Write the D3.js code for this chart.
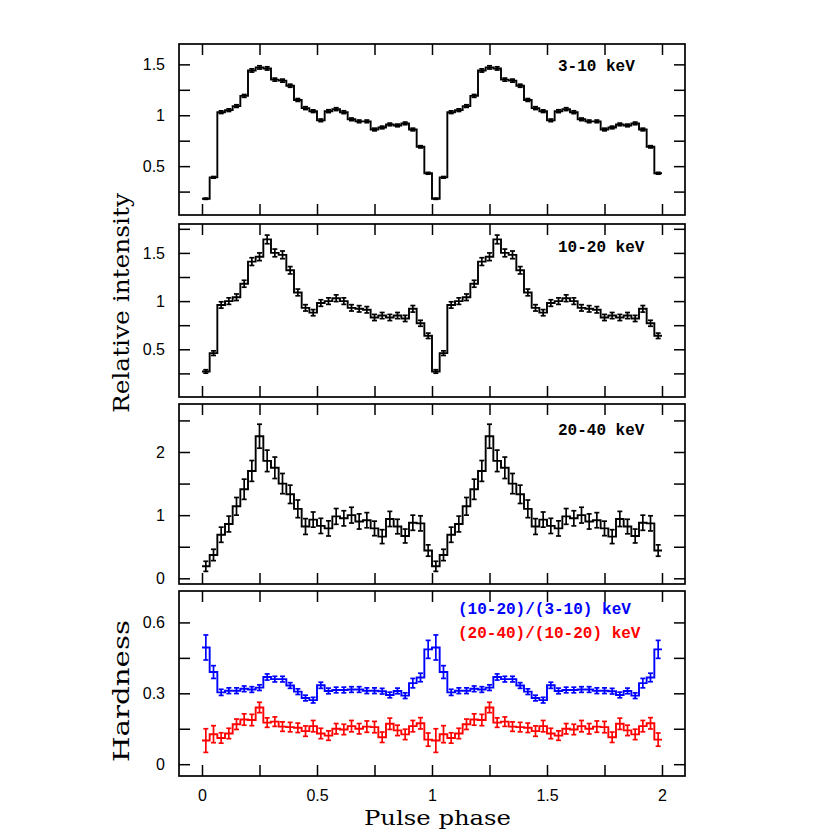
<!DOCTYPE html>
<html><head><meta charset="utf-8">
<script src="https://cdn.jsdelivr.net/npm/d3@7"></script>
<style>body{margin:0;background:#fff}</style>
</head><body><svg id="c" width="830" height="830"></svg>
<script>
// ---- data: one pulse cycle, 30 phase bins (plotted twice, phase 0-2) ----
const nBins = 30;
const soft = [0.18,0.39,1.03,1.05,1.09,1.19,1.44,1.47,1.46,1.35,1.34,1.29,1.15,1.07,1.04,0.95,1.04,1.06,1.03,0.96,0.94,0.94,0.86,0.88,0.91,0.90,0.92,0.86,0.69,0.43];
const softErr = [0.006,0.008,0.013,0.013,0.013,0.014,0.016,0.016,0.016,0.015,0.015,0.015,0.014,0.014,0.013,0.013,0.014,0.014,0.014,0.013,0.013,0.013,0.013,0.013,0.013,0.013,0.013,0.013,0.011,0.009];
const mid = [0.27,0.46,0.96,1.00,1.04,1.18,1.41,1.46,1.64,1.50,1.48,1.32,1.09,0.93,0.88,0.98,1.00,1.03,1.00,0.93,0.92,0.91,0.83,0.85,0.83,0.85,0.82,0.92,0.77,0.64];
const midErr = [0.018,0.024,0.033,0.034,0.034,0.036,0.04,0.04,0.045,0.04,0.04,0.038,0.035,0.033,0.032,0.034,0.034,0.035,0.034,0.033,0.033,0.033,0.032,0.032,0.032,0.032,0.032,0.034,0.031,0.028];
const hard = [0.19,0.37,0.69,0.86,1.14,1.41,1.70,2.25,1.86,1.75,1.50,1.33,1.10,0.82,0.93,0.83,0.79,0.98,0.95,1.00,0.90,0.92,0.79,0.66,0.94,0.82,0.67,0.88,0.87,0.44];
const hardErr = [0.08,0.09,0.12,0.125,0.14,0.16,0.165,0.19,0.17,0.17,0.16,0.145,0.14,0.125,0.12,0.12,0.12,0.125,0.12,0.125,0.12,0.12,0.115,0.11,0.12,0.115,0.11,0.12,0.12,0.09];
const ratioMidSoft = [0.494,0.39,0.304,0.311,0.311,0.319,0.316,0.324,0.369,0.36,0.36,0.333,0.307,0.28,0.271,0.334,0.31,0.314,0.314,0.316,0.316,0.311,0.311,0.309,0.293,0.31,0.29,0.343,0.367,0.486];
const ratioMidSoftErr = [0.053,0.027,0.013,0.012,0.012,0.012,0.012,0.012,0.013,0.012,0.012,0.012,0.012,0.012,0.012,0.013,0.012,0.012,0.012,0.012,0.012,0.012,0.012,0.012,0.012,0.012,0.012,0.02,0.018,0.038];
const ratioHardMid = [0.10,0.127,0.111,0.13,0.169,0.189,0.187,0.24,0.176,0.18,0.159,0.157,0.154,0.14,0.161,0.13,0.121,0.15,0.147,0.161,0.15,0.159,0.157,0.114,0.171,0.143,0.126,0.161,0.173,0.104];
const ratioHardMidErr = [0.05,0.036,0.022,0.022,0.022,0.024,0.024,0.022,0.02,0.02,0.02,0.02,0.02,0.022,0.024,0.022,0.02,0.022,0.022,0.024,0.022,0.024,0.024,0.022,0.024,0.022,0.022,0.024,0.024,0.028];

const xTicks = [0,0.25,0.5,0.75,1,1.25,1.5,1.75,2];
const xTickLabels = [0,0.5,1,1.5,2];
const bandLabels = ["3-10 keV","10-20 keV","20-40 keV"];
const ratioLabels = ["(10-20)/(3-10) keV","(20-40)/(10-20) keV"];

// ---- layout ----
const svg = d3.select("#c");
const L = 179, R = 685;
const x = d3.scaleLinear().domain([-0.1, 2.1]).range([L, R]);
const twice = a => a.concat(a);

const panels = [
  {top:44, bottom:215, domain:[0.02,1.7], ticks:[0.25,0.5,0.75,1,1.25,1.5], labels:[0.5,1,1.5],
   series:[{v:soft,e:softErr,c:"#000"}], label:bandLabels[0], ly:27},
  {top:224, bottom:397, domain:[0.005,1.8], ticks:[0.25,0.5,0.75,1,1.25,1.5,1.75], labels:[0.5,1,1.5],
   series:[{v:mid,e:midErr,c:"#000"}], label:bandLabels[1], ly:28},
  {top:404, bottom:584, domain:[-0.09,2.76], ticks:[0,0.5,1,1.5,2,2.5], labels:[0,1,2],
   series:[{v:hard,e:hardErr,c:"#000"}], label:bandLabels[2], ly:31},
  {top:591, bottom:776, domain:[-0.05,0.733], ticks:[0,0.15,0.3,0.45,0.6], labels:[0,0.3,0.6],
   series:[{v:ratioMidSoft,e:ratioMidSoftErr,c:"#0000ff"},{v:ratioHardMid,e:ratioHardMidErr,c:"#ff0000"}], label:null}
];

const fmt = d => (d===0?"0":d3.format("~g")(d));

panels.forEach((p,pi) => {
  const y = d3.scaleLinear().domain(p.domain).range([p.bottom, p.top]);
  const g = svg.append("g");
  const clipId = "clip"+pi;
  svg.append("clipPath").attr("id",clipId).append("rect")
     .attr("x",L).attr("y",p.top).attr("width",R-L).attr("height",p.bottom-p.top);

  const isLast = pi === panels.length-1;
  const axL = d3.axisLeft(y).tickValues(p.ticks).tickSize(-11).tickPadding(14)
      .tickFormat(d => p.labels.some(l=>Math.abs(l-d)<1e-9) ? fmt(d) : "");
  const axR = d3.axisRight(y).tickValues(p.ticks).tickSize(-11).tickFormat("");
  const axT = d3.axisTop(x).tickValues(xTicks).tickSize(-11).tickFormat("");
  const axB = d3.axisBottom(x).tickValues(xTicks).tickSize(-11).tickPadding(14)
      .tickFormat(d => (isLast && xTickLabels.some(l=>Math.abs(l-d)<1e-9)) ? fmt(d) : "");

  [[axL,`translate(${L},0)`],[axR,`translate(${R},0)`],[axT,`translate(0,${p.top})`],[axB,`translate(0,${p.bottom})`]]
   .forEach(([ax,tr]) => {
     const a = g.append("g").attr("transform",tr).call(ax);
     a.select(".domain").remove();
     a.selectAll("line").attr("stroke","#000").attr("stroke-width",1.5);
     a.selectAll("text").attr("font-family","Liberation Sans, Arial, sans-serif").attr("font-size",16).attr("fill","#000");
   });

  g.append("rect").attr("x",L).attr("y",p.top).attr("width",R-L).attr("height",p.bottom-p.top)
   .attr("fill","none").attr("stroke","#000").attr("stroke-width",1.7);

  const dg = g.append("g").attr("clip-path",`url(#${clipId})`);
  p.series.forEach(s => {
    const vals = twice(s.v), errs = twice(s.e);
    const n = vals.length;
    const pts = vals.map((v,i)=>({x0:i/nBins, xc:(i+0.5)/nBins, v, e:errs[i]}));
    const stepPts = pts.map(d=>[d.x0,d.v]).concat([[n/nBins, vals[n-1]]]);
    dg.append("path").datum(stepPts)
      .attr("d", d3.line().x(d=>x(d[0])).y(d=>y(d[1])).curve(d3.curveStepAfter))
      .attr("fill","none").attr("stroke",s.c).attr("stroke-width",1.9);
    const eb = dg.append("g").attr("stroke",s.c).attr("stroke-width",1.7);
    eb.selectAll("line.v").data(pts).join("line").attr("class","v")
      .attr("x1",d=>x(d.xc)).attr("x2",d=>x(d.xc)).attr("y1",d=>y(d.v-d.e)).attr("y2",d=>y(d.v+d.e));
    eb.selectAll("line.t").data(pts).join("line").attr("class","t")
      .attr("x1",d=>x(d.xc)-2.5).attr("x2",d=>x(d.xc)+2.5).attr("y1",d=>y(d.v+d.e)).attr("y2",d=>y(d.v+d.e));
    eb.selectAll("line.b").data(pts).join("line").attr("class","b")
      .attr("x1",d=>x(d.xc)-2.5).attr("x2",d=>x(d.xc)+2.5).attr("y1",d=>y(d.v-d.e)).attr("y2",d=>y(d.v-d.e));
  });

  if (p.label) {
    g.append("text").attr("x",558).attr("y",p.top+p.ly).text(p.label)
     .attr("font-family","Liberation Mono, Courier New, monospace").attr("font-weight","bold")
     .attr("font-size",16).attr("fill","#000");
  }
});

// legend of hardness panel
[[ratioLabels[0],"#0000ff",614],[ratioLabels[1],"#ff0000",637.5]].forEach(([t,c,yy])=>{
  svg.append("text").attr("x",458).attr("y",yy).text(t)
    .attr("font-family","Liberation Mono, Courier New, monospace").attr("font-weight","bold")
    .attr("font-size",16).attr("fill",c);
});

// axis titles
const serif = "DejaVu Serif, serif";
svg.append("text").attr("transform","translate(129,303) rotate(-90)").attr("text-anchor","middle")
   .attr("font-family",serif).attr("font-size",22)
   .attr("textLength",220).attr("lengthAdjust","spacingAndGlyphs").text("Relative intensity");
svg.append("text").attr("transform","translate(129,691) rotate(-90)").attr("text-anchor","middle")
   .attr("font-family",serif).attr("font-size",22)
   .attr("textLength",142).attr("lengthAdjust","spacingAndGlyphs").text("Hardness");
svg.append("text").attr("x",437.5).attr("y",825).attr("text-anchor","middle")
   .attr("font-family",serif).attr("font-size",20)
   .attr("textLength",147).attr("lengthAdjust","spacingAndGlyphs").text("Pulse phase");
</script></body></html>
